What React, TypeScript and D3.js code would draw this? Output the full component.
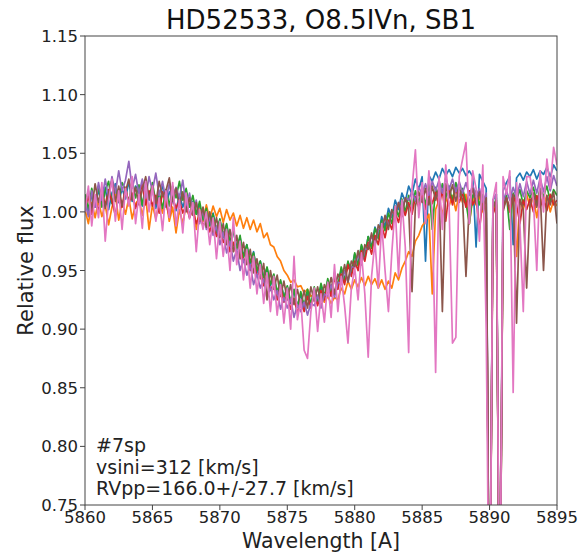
import React from 'react';
import * as d3 from 'd3';

const W = 580;
const H = 554;
const plot = { left: 85, right: 557, top: 36, bottom: 505 };

const title = 'HD52533, O8.5IVn, SB1';
const xLabel = 'Wavelength [A]';
const yLabel = 'Relative flux';
const notes = ['#7sp', 'vsini=312 [km/s]', 'RVpp=166.0+/-27.7 [km/s]'];

const xTicks = [5860, 5865, 5870, 5875, 5880, 5885, 5890, 5895];
const yTicks = [0.75, 0.8, 0.85, 0.9, 0.95, 1.0, 1.05, 1.1, 1.15];

// sampling grid of the spectra: 5860.00 .. 5895.00 every 0.25 A
const wavelength = d3.range(141).map((i) => 5860 + i * 0.25);

// one row per Angstrom (x.00, x.25, x.50, x.75)
const fluxBlue = [
  1.012, 0.998, 1.015, 1.004,
  1.019, 1.006, 1.021, 1.002,
  1.016, 1.024, 1.008, 1.020,
  1.011, 1.026, 1.009, 1.022,
  1.018, 1.005, 1.024, 1.010,
  1.020, 1.003, 1.016, 1.022,
  1.004, 1.017, 1.012, 1.001,
  1.015, 1.004, 1.013, 0.996,
  1.009, 0.998, 1.006, 0.992,
  1.004, 0.990, 0.999, 0.984,
  0.993, 0.978, 0.989, 0.972,
  0.984, 0.970, 0.978, 0.962,
  0.972, 0.955, 0.966, 0.948,
  0.958, 0.944, 0.952, 0.937,
  0.946, 0.930, 0.941, 0.927,
  0.936, 0.922, 0.933, 0.919,
  0.930, 0.918, 0.931, 0.920,
  0.933, 0.922, 0.937, 0.926,
  0.941, 0.931, 0.946, 0.936,
  0.951, 0.942, 0.957, 0.948,
  0.964, 0.955, 0.971, 0.962,
  0.979, 0.970, 0.987, 0.980,
  0.996, 0.987, 1.003, 0.995,
  1.010, 1.002, 1.016, 1.009,
  1.022, 1.015, 1.028, 1.019,
  1.030, 0.958, 1.031, 1.026,
  1.034, 1.028, 1.037, 1.031,
  1.036, 1.030, 1.038, 1.033,
  1.037, 1.031, 1.035, 1.030,
  0.970, 1.032, 1.026, 1.020,
  0.600, 1.010, 1.015, 0.600,
  1.018, 1.025, 1.030, 0.972,
  1.029, 1.033, 1.027, 1.034,
  1.030, 1.036, 1.028, 1.035,
  1.032, 1.038, 1.030, 1.040,
  1.035,
];

const fluxOrange = [
  1.002, 0.990, 1.008, 0.995,
  1.010, 0.996, 1.006, 0.989,
  1.004, 1.015, 0.993, 1.009,
  0.998, 1.012, 0.994, 1.007,
  1.011, 0.997, 1.013, 0.985,
  1.006, 0.994, 1.009, 0.999,
  1.012, 0.992, 1.004, 0.982,
  1.002, 0.990, 1.006, 0.996,
  1.008, 0.985, 1.003, 0.992,
  1.006, 0.994, 1.005, 0.996,
  1.003, 0.991, 1.002, 0.993,
  0.999, 0.988, 0.997, 0.986,
  0.995, 0.985, 0.993, 0.983,
  0.990, 0.978, 0.982, 0.972,
  0.970, 0.962, 0.958, 0.950,
  0.946, 0.940, 0.942, 0.936,
  0.937, 0.931, 0.934, 0.928,
  0.930, 0.925, 0.929, 0.923,
  0.928, 0.922, 0.927, 0.925,
  0.935, 0.930, 0.941, 0.934,
  0.942, 0.936, 0.944, 0.937,
  0.945, 0.938, 0.943, 0.935,
  0.942, 0.934, 0.941, 0.935,
  0.948, 0.942, 0.952, 0.958,
  0.966, 0.962, 0.975, 0.980,
  0.988, 0.992, 0.998, 0.930,
  1.002, 1.010, 0.998, 1.012,
  1.005, 1.014, 1.001, 1.016,
  1.008, 1.015, 0.990, 1.012,
  1.006, 1.013, 1.000, 1.008,
  0.600, 1.000, 1.008, 0.600,
  1.003, 1.012, 1.000, 1.014,
  0.962, 1.010, 1.002, 1.015,
  1.004, 1.013, 0.995, 1.012,
  1.006, 1.014, 1.000, 1.010,
  1.005,
];

const fluxGreen = [
  1.015, 1.002, 1.020, 1.008,
  1.022, 1.004, 1.018, 1.026,
  1.007, 1.021, 1.010, 1.025,
  1.019, 1.008, 1.027, 1.012,
  1.023, 1.006, 1.020, 1.011,
  1.025, 1.008, 1.017, 1.003,
  1.019, 1.005, 1.022, 1.012,
  1.026, 1.010, 1.020, 1.004,
  1.014, 0.998, 1.009, 0.993,
  1.003, 0.988, 0.998, 0.982,
  0.994, 0.979, 0.990, 0.974,
  0.985, 0.968, 0.980, 0.961,
  0.972, 0.957, 0.965, 0.950,
  0.958, 0.943, 0.953, 0.938,
  0.947, 0.931, 0.942, 0.926,
  0.937, 0.923, 0.934, 0.919,
  0.932, 0.920, 0.934, 0.921,
  0.936, 0.924, 0.939, 0.928,
  0.943, 0.931, 0.948, 0.936,
  0.953, 0.941, 0.958, 0.948,
  0.965, 0.954, 0.972, 0.962,
  0.979, 0.969, 0.986, 0.977,
  0.993, 0.984, 0.999, 0.990,
  1.005, 0.996, 1.011, 1.000,
  1.014, 1.003, 1.018, 1.008,
  1.019, 1.006, 1.023, 0.985,
  1.021, 1.010, 1.024, 1.012,
  1.022, 1.009, 1.025, 1.013,
  1.020, 1.008, 0.990, 1.014,
  1.018, 1.006, 1.015, 0.995,
  0.600, 1.002, 1.012, 0.600,
  1.004, 1.015, 0.985, 1.016,
  1.010, 1.019, 1.006, 1.018,
  1.012, 1.021, 1.008, 1.020,
  1.013, 1.022, 1.009, 1.019,
  1.014,
];

const fluxRed = [
  1.004, 1.013, 0.998, 1.010,
  1.001, 1.016, 1.006, 1.019,
  1.009, 0.997, 1.015, 1.004,
  1.021, 1.007, 1.016, 1.003,
  1.012, 1.024, 1.006, 1.018,
  1.005, 1.014, 0.999, 1.017,
  1.008, 0.996, 1.012, 1.003,
  1.010, 0.999, 1.006, 0.995,
  1.002, 0.990, 0.998, 0.988,
  0.994, 0.983, 0.992, 0.979,
  0.985, 0.974, 0.981, 0.966,
  0.974, 0.962, 0.970, 0.957,
  0.963, 0.950, 0.958, 0.945,
  0.950, 0.937, 0.944, 0.933,
  0.939, 0.925, 0.936, 0.923,
  0.930, 0.917, 0.926, 0.914,
  0.924, 0.915, 0.928, 0.918,
  0.930, 0.920, 0.933, 0.925,
  0.938, 0.928, 0.944, 0.934,
  0.947, 0.938, 0.955, 0.945,
  0.958, 0.950, 0.967, 0.958,
  0.974, 0.964, 0.980, 0.972,
  0.988, 0.978, 0.993, 0.985,
  0.999, 0.991, 1.005, 0.997,
  1.008, 0.998, 1.013, 1.004,
  1.014, 1.002, 1.016, 1.007,
  1.017, 1.004, 1.019, 0.992,
  1.018, 1.006, 1.020, 1.008,
  1.016, 1.004, 1.018, 1.006,
  1.012, 0.985, 1.010, 1.000,
  0.600, 0.998, 1.006, 0.600,
  1.002, 1.012, 1.000, 1.014,
  1.006, 0.990, 1.010, 1.002,
  1.011, 1.000, 1.014, 1.004,
  1.012, 1.001, 1.015, 1.006,
  1.010,
];

const fluxPurple = [
  1.010, 0.996, 1.018, 1.004,
  1.025, 1.010, 1.028, 1.012,
  1.030, 1.016, 1.035, 1.018,
  1.027, 1.043, 1.020, 1.032,
  1.015, 1.028, 1.012, 1.030,
  1.018, 1.033, 1.014, 1.026,
  1.010, 1.024, 1.008, 1.021,
  1.012, 1.027, 1.005, 1.016,
  0.998, 1.010, 0.990, 1.002,
  0.985, 0.996, 0.980, 0.988,
  0.972, 0.983, 0.965, 0.975,
  0.958, 0.968, 0.950, 0.960,
  0.946, 0.955, 0.938, 0.947,
  0.935, 0.943, 0.926, 0.936,
  0.925, 0.933, 0.917, 0.927,
  0.918, 0.926, 0.910, 0.921,
  0.915, 0.923, 0.912, 0.922,
  0.920, 0.929, 0.918, 0.930,
  0.928, 0.938, 0.927, 0.940,
  0.939, 0.950, 0.940, 0.953,
  0.953, 0.964, 0.955, 0.968,
  0.969, 0.980, 0.972, 0.985,
  0.986, 0.996, 0.988, 0.999,
  1.000, 1.008, 1.001, 1.012,
  1.010, 1.018, 1.009, 1.021,
  1.015, 1.024, 1.014, 1.026,
  1.018, 1.027, 1.016, 1.029,
  1.019, 1.028, 1.017, 1.026,
  1.016, 1.025, 1.014, 1.023,
  1.013, 1.020, 1.008, 1.016,
  0.600, 1.010, 1.015, 0.600,
  1.008, 1.018, 1.010, 1.021,
  1.012, 1.024, 1.013, 1.026,
  1.015, 1.027, 1.016, 1.029,
  1.017, 1.030, 1.018, 1.031,
  1.022,
];

const fluxBrown = [
  1.006, 1.018, 1.002, 1.024,
  1.008, 1.020, 1.003, 1.016,
  1.027, 1.009, 1.022, 1.005,
  1.017, 1.028, 1.010, 1.021,
  1.006, 1.019, 1.030, 1.011,
  1.022, 1.007, 1.026, 1.013,
  1.018, 1.029, 1.009, 1.020,
  1.005, 1.017, 1.000, 1.012,
  0.997, 1.008, 0.992, 1.004,
  0.987, 1.000, 0.983, 0.995,
  0.978, 0.990, 0.972, 0.985,
  0.966, 0.980, 0.960, 0.974,
  0.955, 0.968, 0.948, 0.960,
  0.943, 0.956, 0.925, 0.950,
  0.934, 0.946, 0.928, 0.941,
  0.925, 0.938, 0.921, 0.934,
  0.920, 0.933, 0.918, 0.936,
  0.924, 0.936, 0.922, 0.938,
  0.931, 0.944, 0.930, 0.947,
  0.941, 0.955, 0.940, 0.958,
  0.953, 0.967, 0.955, 0.972,
  0.968, 0.982, 0.970, 0.989,
  0.983, 0.997, 0.985, 1.002,
  0.995, 1.008, 0.996, 1.012,
  1.003, 0.932, 1.005, 1.017,
  1.008, 1.020, 1.006, 1.022,
  1.010, 1.021, 0.915, 1.024,
  1.012, 1.023, 1.009, 1.021,
  1.010, 0.945, 1.008, 1.020,
  1.007, 1.017, 1.002, 1.012,
  0.600, 1.004, 1.010, 0.600,
  1.000, 1.012, 1.003, 1.015,
  0.905, 1.011, 1.002, 0.935,
  1.006, 1.016, 1.004, 1.018,
  0.950, 1.014, 1.006, 1.017,
  0.990,
];

const fluxPink = [
  1.000, 1.022, 0.988, 1.015,
  0.995, 1.025, 0.975, 1.010,
  1.028, 0.992, 1.018, 0.985,
  1.020, 1.005, 1.030, 0.990,
  1.015, 0.986, 1.026, 1.000,
  1.022, 0.992, 1.012, 0.984,
  1.018, 0.995, 1.025, 0.988,
  1.010, 0.982, 1.016, 0.994,
  1.008, 0.966, 1.002, 0.985,
  1.000, 0.972, 0.995, 0.960,
  0.992, 0.962, 0.985, 0.950,
  0.995, 0.955, 0.975, 0.942,
  0.968, 0.935, 0.962, 0.930,
  0.955, 0.922, 0.948, 0.915,
  0.945, 0.912, 0.938, 0.905,
  0.935, 0.900, 0.962, 0.908,
  0.925, 0.882, 0.875, 0.915,
  0.935, 0.898, 0.930, 0.906,
  0.940, 0.910, 0.955, 0.915,
  0.945, 0.920, 0.888, 0.935,
  0.952, 0.925, 0.965, 0.930,
  0.876, 0.945, 0.975, 0.935,
  0.990, 0.950, 0.915, 0.965,
  1.005, 0.945, 1.010, 0.970,
  0.880, 1.020, 1.053, 0.995,
  1.025, 0.990, 1.035, 1.000,
  0.863, 1.030, 0.985, 1.040,
  1.005, 0.888, 0.893, 1.030,
  1.045, 1.059, 0.990, 1.035,
  1.020, 0.975, 1.040, 0.900,
  0.600, 1.010, 1.025, 0.600,
  1.030, 1.015, 1.035, 0.846,
  1.025, 0.990, 0.915, 1.030,
  1.030, 1.010, 0.950, 1.035,
  1.000, 1.045, 1.020, 1.055,
  1.040,
];

const spectra = [
  { id: 'sp1', color: '#1f77b4', flux: fluxBlue },
  { id: 'sp2', color: '#ff7f0e', flux: fluxOrange },
  { id: 'sp3', color: '#2ca02c', flux: fluxGreen },
  { id: 'sp4', color: '#d62728', flux: fluxRed },
  { id: 'sp5', color: '#9467bd', flux: fluxPurple },
  { id: 'sp6', color: '#8c564b', flux: fluxBrown },
  { id: 'sp7', color: '#e377c2', flux: fluxPink },
];

const FONT = '"DejaVu Sans", "Liberation Sans", sans-serif';

export default function App() {
  const x = d3.scaleLinear().domain([5860, 5895]).range([plot.left, plot.right]);
  const y = d3.scaleLinear().domain([0.75, 1.15]).range([plot.bottom, plot.top]);
  const line = d3
    .line<number>()
    .x((_, i) => x(wavelength[i]))
    .y((d) => y(d));
  const fmtY = d3.format('.2f');
  const cx = (plot.left + plot.right) / 2;
  const cy = (plot.top + plot.bottom) / 2;

  return (
    <svg
      width={W}
      height={H}
      style={{ position: 'absolute', left: 0, top: 0, background: '#fff' }}
      fontFamily={FONT}
    >
      <defs>
        <clipPath id="plotClip">
          <rect x={plot.left} y={plot.top} width={plot.right - plot.left} height={plot.bottom - plot.top} />
        </clipPath>
      </defs>
      <rect x={0} y={0} width={W} height={H} fill="#fff" />
      <g clipPath="url(#plotClip)">
        {spectra.map((s) => (
          <path
            key={s.id}
            d={line(s.flux) || ''}
            fill="none"
            stroke={s.color}
            strokeWidth={1.7}
            strokeLinejoin="round"
          />
        ))}
      </g>
      <rect
        x={plot.left}
        y={plot.top}
        width={plot.right - plot.left}
        height={plot.bottom - plot.top}
        fill="none"
        stroke="#444"
        strokeWidth={1}
      />
      {xTicks.map((t) => (
        <g key={'x' + t}>
          <line x1={x(t)} x2={x(t)} y1={plot.bottom} y2={plot.bottom + 5} stroke="#444" />
          <text x={x(t)} y={plot.bottom + 18} fontSize={16.5} textAnchor="middle" fill="#222">
            {t}
          </text>
        </g>
      ))}
      {yTicks.map((t) => (
        <g key={'y' + t}>
          <line x1={plot.left - 5} x2={plot.left} y1={y(t)} y2={y(t)} stroke="#444" />
          <text x={plot.left - 7} y={y(t) + 6} fontSize={16.5} textAnchor="end" fill="#222">
            {fmtY(t)}
          </text>
        </g>
      ))}
      <text x={cx} y={29} fontSize={26} textAnchor="middle" fill="#111">
        {title}
      </text>
      <text x={cx} y={548} fontSize={20.5} textAnchor="middle" fill="#222">
        {xLabel}
      </text>
      <text
        transform={`translate(33,${cy}) rotate(-90)`}
        fontSize={21}
        textAnchor="middle"
        fill="#222"
      >
        {yLabel}
      </text>
      {notes.map((n, i) => (
        <text key={n} x={96} y={452 + i * 21.5} fontSize={19} fill="#222">
          {n}
        </text>
      ))}
    </svg>
  );
}
